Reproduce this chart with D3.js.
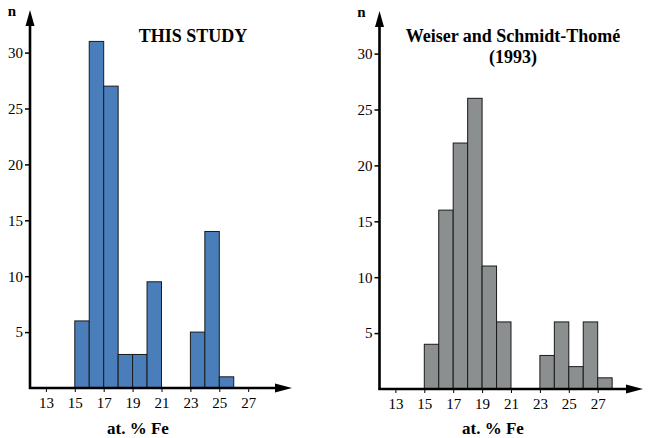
<!DOCTYPE html>
<html><head><meta charset="utf-8">
<script src="https://cdn.jsdelivr.net/npm/d3@7"></script>
<style>body{margin:0;background:#fff}svg{display:block}
svg text{font-family:"Liberation Serif",serif !important;}</style>
</head><body>
<svg id="chart" width="650" height="438"></svg>
<script>
// Data
const binStarts = [15, 16, 17, 18, 19, 20, 21, 22, 23, 24, 25, 26, 27];
const thisStudy = [6, 31, 27, 3, 3, 9.5, 0, 0, 5, 14, 1, 0, 0];
const weiser = [4, 16, 22, 26, 11, 6, 0, 0, 3, 6, 2, 6, 1];
const xTicks = [13, 15, 17, 19, 21, 23, 25, 27];
const yTicks = [5, 10, 15, 20, 25, 30];
const titleLeft = ["THIS STUDY"];
const titleRight = ["Weiser and Schmidt-Thomé", "(1993)"];

const svg = d3.select("#chart");
const FONT = "Liberation Serif";

function panel(o) {
  const g = svg.append("g");
  const x = d3.scaleLinear().domain([11.9, 30]).range([o.x0, o.x0 + 14.45 * (30 - 11.9)]);
  const y = d3.scaleLinear().domain([0, 30]).range([o.base, o.base - 30 * 11.18]);

  // bars
  g.selectAll("rect.bar").data(binStarts.map((b, i) => ({b, v: o.values[i]})).filter(d => d.v > 0))
    .enter().append("rect")
    .attr("x", d => x(d.b)).attr("width", d => x(d.b + 1) - x(d.b))
    .attr("y", d => y(d.v)).attr("height", d => y(0) - y(d.v))
    .attr("fill", o.fill).attr("stroke", "#1a1a1a").attr("stroke-width", 1);

  // y axis
  const yAxis = d3.axisLeft(y).tickValues(yTicks).tickSize(5).tickPadding(2);
  const ya = g.append("g").attr("transform", `translate(${o.x0},0)`).call(yAxis);
  ya.select(".domain").remove();
  ya.selectAll("line").attr("stroke", "#000").attr("stroke-width", 1.5);
  ya.selectAll("text").style("font-family", FONT).style("font-size", "15px").attr("fill", "#000");

  // x axis
  const xAxis = d3.axisBottom(x).tickValues(xTicks).tickSize(4).tickPadding(5);
  const xa = g.append("g").attr("transform", `translate(0,${o.base})`).call(xAxis);
  xa.select(".domain").remove();
  xa.selectAll("line").attr("stroke", "#000").attr("stroke-width", 1);
  xa.selectAll("text").style("font-family", FONT).style("font-size", "15px").attr("fill", "#000");

  // axis lines with arrows
  g.append("line").attr("x1", o.x0).attr("x2", o.x0).attr("y1", o.base + 1).attr("y2", o.top + 12)
    .attr("stroke", "#000").attr("stroke-width", 2.6);
  g.append("path").attr("d", `M${o.x0},${o.top} L${o.x0 - 4.5},${o.top + 16} L${o.x0 + 4.5},${o.top + 16} Z`).attr("fill", "#000");
  g.append("line").attr("x1", o.x0 - 1).attr("x2", o.xEnd - 12).attr("y1", o.base).attr("y2", o.base)
    .attr("stroke", "#000").attr("stroke-width", 2.6);
  g.append("path").attr("d", `M${o.xEnd},${o.base} L${o.xEnd - 17},${o.base - 4.5} L${o.xEnd - 17},${o.base + 4.5} Z`).attr("fill", "#000");

  // n label
  g.append("text").attr("x", o.x0 - 18).attr("y", o.top + 6).text("n")
    .style("font-family", FONT).style("font-weight", "bold").style("font-size", "15px").attr("text-anchor", "middle");

  // x label
  g.append("text").attr("x", o.labelX).attr("y", 434).text("at. % Fe")
    .style("font-family", FONT).style("font-weight", "bold").style("font-size", "17px").attr("text-anchor", "middle");

  // title
  o.title.forEach((t, i) => {
    g.append("text").attr("x", o.titleX).attr("y", 42 + i * 21).text(t)
      .style("font-family", FONT).style("font-weight", "bold").style("font-size", "18px").attr("text-anchor", "middle");
  });
}

panel({x0: 30, base: 388, top: 10, xEnd: 292, values: thisStudy, fill: "#4a7ebb", title: titleLeft, titleX: 193, labelX: 138});
panel({x0: 379.5, base: 389, top: 11, xEnd: 643, values: weiser, fill: "#8c8f8f", title: titleRight, titleX: 513, labelX: 493});
</script>
</body></html>
